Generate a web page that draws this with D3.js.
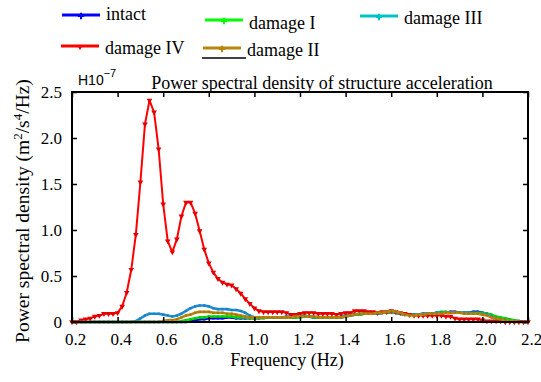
<!DOCTYPE html>
<html>
<head>
<meta charset="utf-8">
<script src="https://cdn.jsdelivr.net/npm/d3@7"></script>
<style>
  body { margin: 0; background: #fff; }
  svg { display: block; }
  svg text { font-family: "Liberation Serif", "Times New Roman", serif; }
  svg text.sans { font-family: "Liberation Sans", Arial, sans-serif; }
</style>
</head>
<body>
<svg id="chart" width="541" height="382"></svg>
<script>
"use strict";

// frequency grid (Hz)
const freq = [
  0.20, 0.22, 0.24, 0.26, 0.28, 0.30, 0.32, 0.34, 0.36, 0.38,
  0.40, 0.42, 0.44, 0.46, 0.48, 0.50, 0.52, 0.54, 0.56, 0.58,
  0.60, 0.62, 0.64, 0.66, 0.68, 0.70, 0.72, 0.74, 0.76, 0.78,
  0.80, 0.82, 0.84, 0.86, 0.88, 0.90, 0.92, 0.94, 0.96, 0.98,
  1.00, 1.02, 1.04, 1.06, 1.08, 1.10, 1.12, 1.14, 1.16, 1.18,
  1.20, 1.22, 1.24, 1.26, 1.28, 1.30, 1.32, 1.34, 1.36, 1.38,
  1.40, 1.42, 1.44, 1.46, 1.48, 1.50, 1.52, 1.54, 1.56, 1.58,
  1.60, 1.62, 1.64, 1.66, 1.68, 1.70, 1.72, 1.74, 1.76, 1.78,
  1.80, 1.82, 1.84, 1.86, 1.88, 1.90, 1.92, 1.94, 1.96, 1.98,
  2.00, 2.02, 2.04, 2.06, 2.08, 2.10, 2.12, 2.14, 2.16, 2.18,
  2.20
];

// PSD values, units of 1e-7 m^2/s^4/Hz
const intact = [
  0, 0, 0, 0, 0, 0, 0, 0, 0, 0,
  0, 0, 0, 0, 0, 0, 0, 0, 0, 0,
  0, 0, 0, 0, 0, 0, 0.01, 0.02, 0.03, 0.03,
  0.04, 0.04, 0.04, 0.04, 0.05, 0.05, 0.04, 0.04, 0.04, 0.04,
  0.04, 0.04, 0.05, 0.05, 0.05, 0.05, 0.05, 0.05, 0.05, 0.05,
  0.06, 0.06, 0.06, 0.05, 0.05, 0.05, 0.05, 0.05, 0.05, 0.05,
  0.06, 0.07, 0.08, 0.08, 0.09, 0.09, 0.09, 0.09, 0.10, 0.10,
  0.11, 0.10, 0.09, 0.08, 0.08, 0.08, 0.08, 0.09, 0.09, 0.09,
  0.10, 0.10, 0.10, 0.11, 0.11, 0.10, 0.10, 0.10, 0.11, 0.11,
  0.10, 0.09, 0.07, 0.05, 0.04, 0.03, 0.02, 0.01, 0.01, 0,
  0
];
const damage1 = [
  0, 0, 0, 0, 0, 0, 0, 0, 0, 0,
  0, 0, 0, 0, 0, 0, 0, 0, 0, 0,
  0, 0, 0, 0, 0.01, 0.02, 0.03, 0.04, 0.05, 0.05,
  0.06, 0.06, 0.06, 0.06, 0.06, 0.06, 0.05, 0.05, 0.05, 0.04,
  0.04, 0.04, 0.04, 0.05, 0.05, 0.05, 0.05, 0.05, 0.05, 0.05,
  0.05, 0.06, 0.06, 0.05, 0.05, 0.05, 0.05, 0.05, 0.05, 0.05,
  0.07, 0.07, 0.08, 0.08, 0.09, 0.09, 0.09, 0.09, 0.10, 0.10,
  0.11, 0.10, 0.09, 0.08, 0.08, 0.08, 0.08, 0.08, 0.09, 0.09,
  0.10, 0.11, 0.11, 0.10, 0.10, 0.10, 0.10, 0.10, 0.10, 0.10,
  0.10, 0.09, 0.08, 0.06, 0.05, 0.04, 0.03, 0.02, 0.01, 0,
  0
];
const damage2 = [
  0, 0, 0, 0, 0, 0, 0, 0, 0, 0,
  0, 0, 0, 0, 0, 0, 0, 0, 0, 0,
  0.01, 0.02, 0.02, 0.03, 0.05, 0.07, 0.08, 0.10, 0.11, 0.11,
  0.11, 0.10, 0.10, 0.10, 0.09, 0.09, 0.08, 0.07, 0.06, 0.05,
  0.05, 0.05, 0.05, 0.05, 0.05, 0.05, 0.05, 0.05, 0.05, 0.06,
  0.06, 0.06, 0.06, 0.06, 0.05, 0.05, 0.05, 0.05, 0.05, 0.05,
  0.06, 0.07, 0.08, 0.09, 0.09, 0.09, 0.09, 0.10, 0.10, 0.11,
  0.12, 0.11, 0.10, 0.08, 0.07, 0.07, 0.08, 0.08, 0.09, 0.09,
  0.09, 0.09, 0.10, 0.10, 0.10, 0.10, 0.09, 0.09, 0.09, 0.09,
  0.08, 0.07, 0.05, 0.04, 0.03, 0.02, 0.01, 0.01, 0, 0,
  0
];
const damage3 = [
  0, 0, 0, 0, 0, 0, 0, 0, 0, 0,
  0, 0, 0, 0, 0.01, 0.04, 0.07, 0.09, 0.09, 0.09,
  0.08, 0.07, 0.06, 0.07, 0.09, 0.12, 0.15, 0.17, 0.18, 0.18,
  0.17, 0.15, 0.14, 0.14, 0.14, 0.13, 0.13, 0.12, 0.10, 0.07,
  0.05, 0.05, 0.05, 0.05, 0.05, 0.05, 0.05, 0.06, 0.06, 0.06,
  0.07, 0.07, 0.06, 0.06, 0.05, 0.05, 0.05, 0.05, 0.05, 0.06,
  0.07, 0.08, 0.08, 0.09, 0.09, 0.09, 0.09, 0.09, 0.10, 0.11,
  0.11, 0.10, 0.09, 0.08, 0.08, 0.08, 0.08, 0.09, 0.09, 0.09,
  0.10, 0.10, 0.10, 0.10, 0.10, 0.10, 0.10, 0.10, 0.09, 0.09,
  0.09, 0.08, 0.06, 0.04, 0.03, 0.02, 0.01, 0, 0, 0,
  0
];
const damage4 = [
  0, 0, 0.02, 0.03, 0.04, 0.06, 0.07, 0.09, 0.09, 0.09,
  0.10, 0.17, 0.32, 0.57, 0.95, 1.52, 2.15, 2.41, 2.28, 1.88,
  1.28, 0.88, 0.76, 0.90, 1.15, 1.30, 1.30, 1.18, 0.99, 0.79,
  0.64, 0.54, 0.47, 0.43, 0.41, 0.40, 0.36, 0.31, 0.25, 0.20,
  0.15, 0.12, 0.11, 0.11, 0.11, 0.11, 0.11, 0.10, 0.08, 0.08,
  0.09, 0.10, 0.10, 0.10, 0.09, 0.09, 0.09, 0.09, 0.08, 0.09,
  0.10, 0.10, 0.12, 0.12, 0.12, 0.11, 0.11, 0.10, 0.11, 0.11,
  0.12, 0.11, 0.10, 0.09, 0.08, 0.07, 0.07, 0.07, 0.07, 0.07,
  0.07, 0.07, 0.06, 0.06, 0.04, 0.03, 0.03, 0.03, 0.03, 0.03,
  0.02, 0.01, 0.01, 0.01, 0.01, 0, 0, 0, 0, 0,
  0
];

const xTicks = [0.2, 0.4, 0.6, 0.8, 1.0, 1.2, 1.4, 1.6, 1.8, 2.0, 2.2];
const yTicks = [0, 0.5, 1.0, 1.5, 2.0, 2.5];

// draw order: brown ends up on top
const series = [
  { name: "intact",     values: intact,  color: "#0000ff", key: "#0000ff", mark: "sq" },
  { name: "damage I",   values: damage1, color: "#00e000", key: "#00ff00", mark: "sq" },
  { name: "damage III", values: damage3, color: "#1f8fd4", key: "#00c4c4", mark: "sq" },
  { name: "damage IV",  values: damage4, color: "#ff0000", key: "#ff0000", mark: "tri" },
  { name: "damage II",  values: damage2, color: "#b8860b", key: "#b8860b", mark: "sq" }
];

// legend slots (line start, line y, text baseline)
const legendPos = {
  "intact":     { x: 62,  y: 15, ty: 20 },
  "damage I":   { x: 205, y: 20, ty: 29 },
  "damage III": { x: 360, y: 16, ty: 24 },
  "damage IV":  { x: 61,  y: 46, ty: 54 },
  "damage II":  { x: 203, y: 48, ty: 56 }
};

const svg = d3.select("#chart");
const L = 72, R = 528, T = 92, B = 322;

const x = d3.scaleLinear().domain([0.2, 2.2]).range([L, R]);
const y = d3.scaleLinear().domain([0, 2.5]).range([B, T]);

// series lines
const line = d3.line().x((d, i) => x(freq[i])).y((d) => y(d));
const plot = svg.append("g");
series.forEach((s) => {
  const g = plot.append("g");
  g.append("path").attr("d", line(s.values))
    .attr("fill", "none").attr("stroke", s.color)
    .attr("stroke-width", s.mark === "tri" ? 2 : 2.6).attr("stroke-linejoin", "round");
  const sym = s.mark === "tri"
    ? d3.symbol(d3.symbolTriangle, 14)
    : d3.symbol(d3.symbolSquare, 5);
  g.selectAll("path.m").data(s.values).join("path").attr("class", "m")
    .attr("d", sym)
    .attr("transform", (d, i) => `translate(${x(freq[i])},${y(d)})` + (s.mark === "tri" ? " rotate(180)" : ""))
    .attr("fill", d3.color(s.color).darker(0.3));
});

// axes, ticks inward on all four sides
const fmtY = (d) => (d === 0 ? "0" : d3.format(".1f")(d));
const axB = svg.append("g").attr("transform", `translate(0,${B})`)
  .call(d3.axisBottom(x).tickValues(xTicks).tickSize(-5).tickPadding(11).tickFormat(d3.format(".1f")));
const axT = svg.append("g").attr("transform", `translate(0,${T})`)
  .call(d3.axisTop(x).tickValues(xTicks).tickSize(-5).tickFormat(""));
const axL = svg.append("g").attr("transform", `translate(${L},0)`)
  .call(d3.axisLeft(y).tickValues(yTicks).tickSize(-5).tickPadding(10).tickFormat(fmtY));
const axR = svg.append("g").attr("transform", `translate(${R},0)`)
  .call(d3.axisRight(y).tickValues(yTicks).tickSize(-5).tickFormat(""));
[axB, axT, axL, axR].forEach((a) => {
  a.attr("font-family", null);
  a.select(".domain").remove();
  a.selectAll("line").attr("stroke", "#000").attr("stroke-width", 1.5);
  a.selectAll("text").attr("fill", "#000").attr("font-size", 17);
});
axB.selectAll("text").attr("dx", 3);

svg.append("rect").attr("x", L).attr("y", T).attr("width", R - L).attr("height", B - T)
  .attr("fill", "none").attr("stroke", "#000").attr("stroke-width", 2);

// title and labels
svg.append("text").attr("x", 322).attr("y", 89).attr("text-anchor", "middle")
  .attr("font-size", 18).text("Power spectral density of structure acceleration");

svg.append("text").attr("x", 287).attr("y", 366).attr("text-anchor", "middle")
  .attr("font-size", 18).text("Frequency (Hz)");

const yl = svg.append("text").attr("transform", "translate(29,211) rotate(-90)")
  .attr("text-anchor", "middle").attr("font-size", 19.5);
yl.append("tspan").text("Power spectral density (m");
yl.append("tspan").attr("dy", -7).attr("font-size", 13).text("2");
yl.append("tspan").attr("dy", 7).text("/s");
yl.append("tspan").attr("dy", -7).attr("font-size", 13).text("4");
yl.append("tspan").attr("dy", 7).text("/Hz)");

const mult = svg.append("text").attr("class", "sans").attr("x", 78).attr("y", 85)
  .attr("font-size", 14);
mult.append("tspan").text("H10");
mult.append("tspan").attr("dy", -8).attr("font-size", 11).text("\u22127");

// legend
series.forEach((s) => {
  const p = legendPos[s.name];
  const g = svg.append("g");
  g.append("line").attr("x1", p.x).attr("x2", p.x + 38).attr("y1", p.y).attr("y2", p.y)
    .attr("stroke", s.key).attr("stroke-width", 3);
  const sym = s.mark === "tri" ? d3.symbol(d3.symbolTriangle, 14) : d3.symbol(d3.symbolCross, 22);
  g.append("path").attr("d", sym)
    .attr("transform", `translate(${p.x + 19},${p.y + 1})` + (s.mark === "tri" ? " rotate(180)" : ""))
    .attr("fill", s.key);
  g.append("text").attr("x", p.x + 44).attr("y", p.ty).attr("font-size", 18).text(s.name);
});
// stray rule under "damage II"
svg.append("line").attr("x1", 202).attr("x2", 246).attr("y1", 58).attr("y2", 58)
  .attr("stroke", "#000").attr("stroke-width", 1.5);
</script>
</body>
</html>
